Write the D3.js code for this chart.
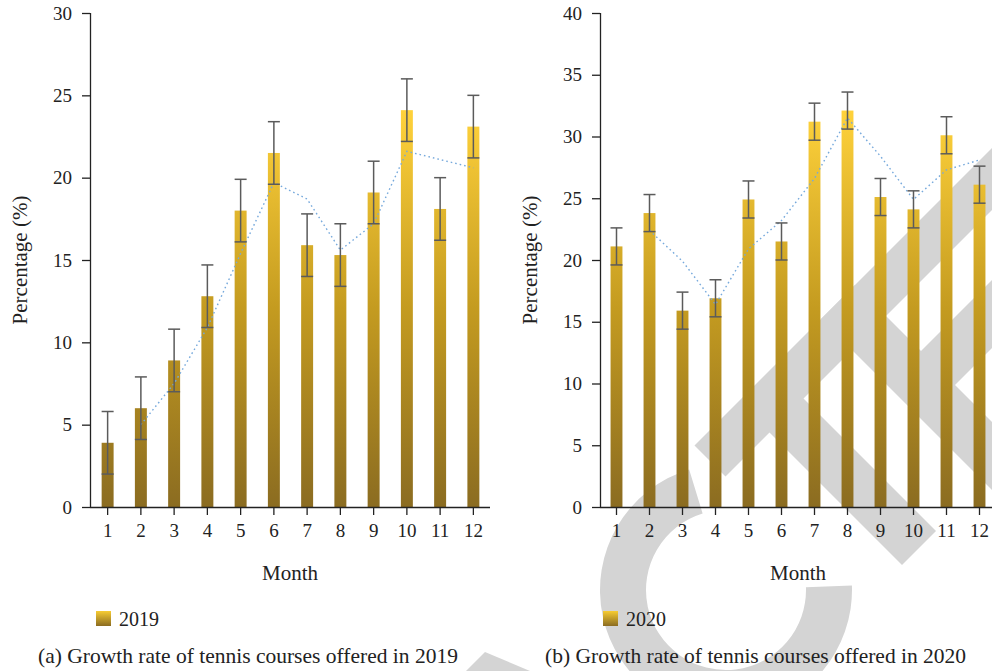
<!DOCTYPE html>
<html>
<head>
<meta charset="utf-8">
<script src="https://cdn.jsdelivr.net/npm/d3@7/dist/d3.min.js"></script>
<style>
  html, body { margin: 0; padding: 0; background: #fff; }
  svg { display: block; }
</style>
</head>
<body>
<svg id="chart" width="992" height="671"></svg>
<script>
// Month categories shared by both panels
const months = ["1", "2", "3", "4", "5", "6", "7", "8", "9", "10", "11", "12"];

// 2019: monthly growth rate (%) with error margins
const growth2019 = [3.9, 6.0, 8.9, 12.8, 18.0, 21.5, 15.9, 15.3, 19.1, 24.1, 18.1, 23.1];
const error2019  = [1.9, 1.9, 1.9, 1.9, 1.9, 1.9, 1.9, 1.9, 1.9, 1.9, 1.9, 1.9];
// 2019: two-month moving-average trend, months 2..12
const trendMonths2019 = ["2", "3", "4", "5", "6", "7", "8", "9", "10", "11", "12"];
const trend2019 = [5.0, 7.5, 10.9, 15.4, 19.7, 18.7, 15.6, 17.2, 21.6, 21.1, 20.6];
const yTicks2019 = [0, 5, 10, 15, 20, 25, 30];

// 2020: monthly growth rate (%) with error margins
const growth2020 = [21.1, 23.8, 15.9, 16.9, 24.9, 21.5, 31.2, 32.1, 25.1, 24.1, 30.1, 26.1];
const error2020  = [1.5, 1.5, 1.5, 1.5, 1.5, 1.5, 1.5, 1.5, 1.5, 1.5, 1.5, 1.5];
const trendMonths2020 = ["2", "3", "4", "5", "6", "7", "8", "9", "10", "11", "12"];
const trend2020 = [22.4, 19.9, 16.4, 20.9, 23.2, 26.6, 31.5, 28.4, 24.9, 27.3, 28.1];
const yTicks2020 = [0, 5, 10, 15, 20, 25, 30, 35, 40];

const FONT = "'Liberation Serif', 'DejaVu Serif', 'Noto Serif', serif";

const svg = d3.select("#chart");
const defs = svg.append("defs");

// Light grey background emblem
const mark = svg.append("g").attr("fill", "#d4d4d4");
const poly = pts => "M" + pts.map(p => p.join(",")).join("L") + "Z";
// diagonal bands given as corner points
[
  [[694.5, 445.5], [1070, 70], [1101, 101], [725.5, 476.5]],
  [[753.5, 416.5], [787.5, 382.5], [936, 531], [902, 565]],
  [[821, 319], [855, 285], [1285, 715], [1251, 749]],
  [[916, 356], [1136, 136], [1170, 170], [950, 390]],
  [[485, 652], [466, 671], [530, 671]]
].forEach(p => mark.append("path").attr("d", poly(p)));
mark.append("path")
  .attr("transform", "translate(726,590)")
  .attr("d", d3.arc()({
    innerRadius: 80, outerRadius: 126,
    startAngle: 88 * Math.PI / 180, endAngle: 343 * Math.PI / 180
  }));

// Legend swatch gradient
const sw = defs.append("linearGradient").attr("id", "swatchGrad")
  .attr("x1", 0).attr("y1", 0).attr("x2", 0).attr("y2", 1);
sw.append("stop").attr("offset", "0%").attr("stop-color", "#f7cc33");
sw.append("stop").attr("offset", "100%").attr("stop-color", "#8b6c21");

const panels = [
  {
    year: "2019", values: growth2019, errors: error2019,
    trendMonths: trendMonths2019, trend: trend2019, ticks: yTicks2019,
    axisX: 90, xRange: [91, 490], yLabelX: 20, legendX: 96,
    caption: "(a) Growth rate of tennis courses offered in 2019", captionX: 38
  },
  {
    year: "2020", values: growth2020, errors: error2020,
    trendMonths: trendMonths2020, trend: trend2020, ticks: yTicks2020,
    axisX: 600, xRange: [600, 996], yLabelX: 530, legendX: 603,
    caption: "(b) Growth rate of tennis courses offered in 2020", captionX: 545
  }
];

const yBottom = 507, yTop = 13;

panels.forEach(p => {
  const g = svg.append("g");
  const yMax = p.ticks[p.ticks.length - 1];
  const y = d3.scaleLinear().domain([0, yMax]).range([yBottom, yTop]);
  const x = d3.scaleBand().domain(months).range(p.xRange).paddingInner(0.64).paddingOuter(0.32);
  const cx = m => x(m) + x.bandwidth() / 2;

  // bar gradient spans from the baseline up to the tallest bar
  const gradId = "grad" + p.year;
  const gr = defs.append("linearGradient").attr("id", gradId)
    .attr("gradientUnits", "userSpaceOnUse")
    .attr("x1", 0).attr("x2", 0)
    .attr("y1", y(0)).attr("y2", y(d3.max(p.values)));
  gr.append("stop").attr("offset", "0%").attr("stop-color", "#8b6c21");
  gr.append("stop").attr("offset", "50%").attr("stop-color", "#c49b20");
  gr.append("stop").attr("offset", "100%").attr("stop-color", "#ffd23b");

  // bars
  g.append("g").selectAll("rect").data(p.values).join("rect")
    .attr("x", (d, i) => x(months[i]))
    .attr("width", x.bandwidth())
    .attr("y", d => y(d))
    .attr("height", d => y(0) - y(d))
    .attr("fill", `url(#${gradId})`);

  // trend line
  const line = d3.line().x((d, i) => cx(p.trendMonths[i])).y(d => y(d));
  g.append("path").datum(p.trend)
    .attr("d", line)
    .attr("fill", "none")
    .attr("stroke", "#76a9dc")
    .attr("stroke-width", 1.4)
    .attr("stroke-dasharray", "1.6,3");

  // error bars
  const eb = g.append("g").attr("stroke", "#5b5b5b").attr("stroke-width", 1.5);
  p.values.forEach((v, i) => {
    const xc = cx(months[i]);
    const hi = y(v + p.errors[i]), lo = y(v - p.errors[i]);
    eb.append("line").attr("x1", xc).attr("x2", xc).attr("y1", hi).attr("y2", lo);
    eb.append("line").attr("x1", xc - 6).attr("x2", xc + 6).attr("y1", hi).attr("y2", hi);
    eb.append("line").attr("x1", xc - 6).attr("x2", xc + 6).attr("y1", lo).attr("y2", lo);
  });

  // axes
  const yAxis = g.append("g").attr("transform", `translate(${p.axisX},0)`)
    .call(d3.axisLeft(y).tickValues(p.ticks).tickSize(8).tickPadding(10).tickFormat(d3.format("d")));
  const xAxis = g.append("g").attr("transform", `translate(0,${yBottom})`)
    .call(d3.axisBottom(x).tickSize(8).tickPadding(9).tickSizeOuter(0));
  xAxis.select(".domain").attr("d", `M${p.axisX},0.5H${p.xRange[1]}`);
  [yAxis, xAxis].forEach(a => {
    a.select(".domain").attr("stroke", "#222").attr("stroke-width", 1.3);
    a.selectAll(".tick line").attr("stroke", "#222").attr("stroke-width", 1.3);
    a.selectAll(".tick text").attr("font-size", 19).attr("fill", "#222");
  });
  yAxis.select(".domain").attr("d", `M0.5,${yTop}V${yBottom}`);

  // axis titles
  g.append("text")
    .attr("transform", `translate(${p.yLabelX},${(yTop + yBottom) / 2}) rotate(-90)`)
    .attr("text-anchor", "middle").attr("dy", "0.35em")
    .attr("font-size", 21).text("Percentage (%)");
  g.append("text")
    .attr("x", (p.axisX + p.xRange[1]) / 2).attr("y", 580)
    .attr("text-anchor", "middle").attr("font-size", 21).text("Month");

  // legend
  g.append("rect").attr("x", p.legendX).attr("y", 611).attr("width", 15).attr("height", 15)
    .attr("fill", "url(#swatchGrad)");
  g.append("text").attr("x", p.legendX + 23).attr("y", 626).attr("font-size", 20).text(p.year);

  // caption
  g.append("text").attr("x", p.captionX).attr("y", 663).attr("font-size", 21.5).text(p.caption);
});

svg.selectAll("text").style("font-family", FONT).style("fill", "#222");
</script>
</body>
</html>
